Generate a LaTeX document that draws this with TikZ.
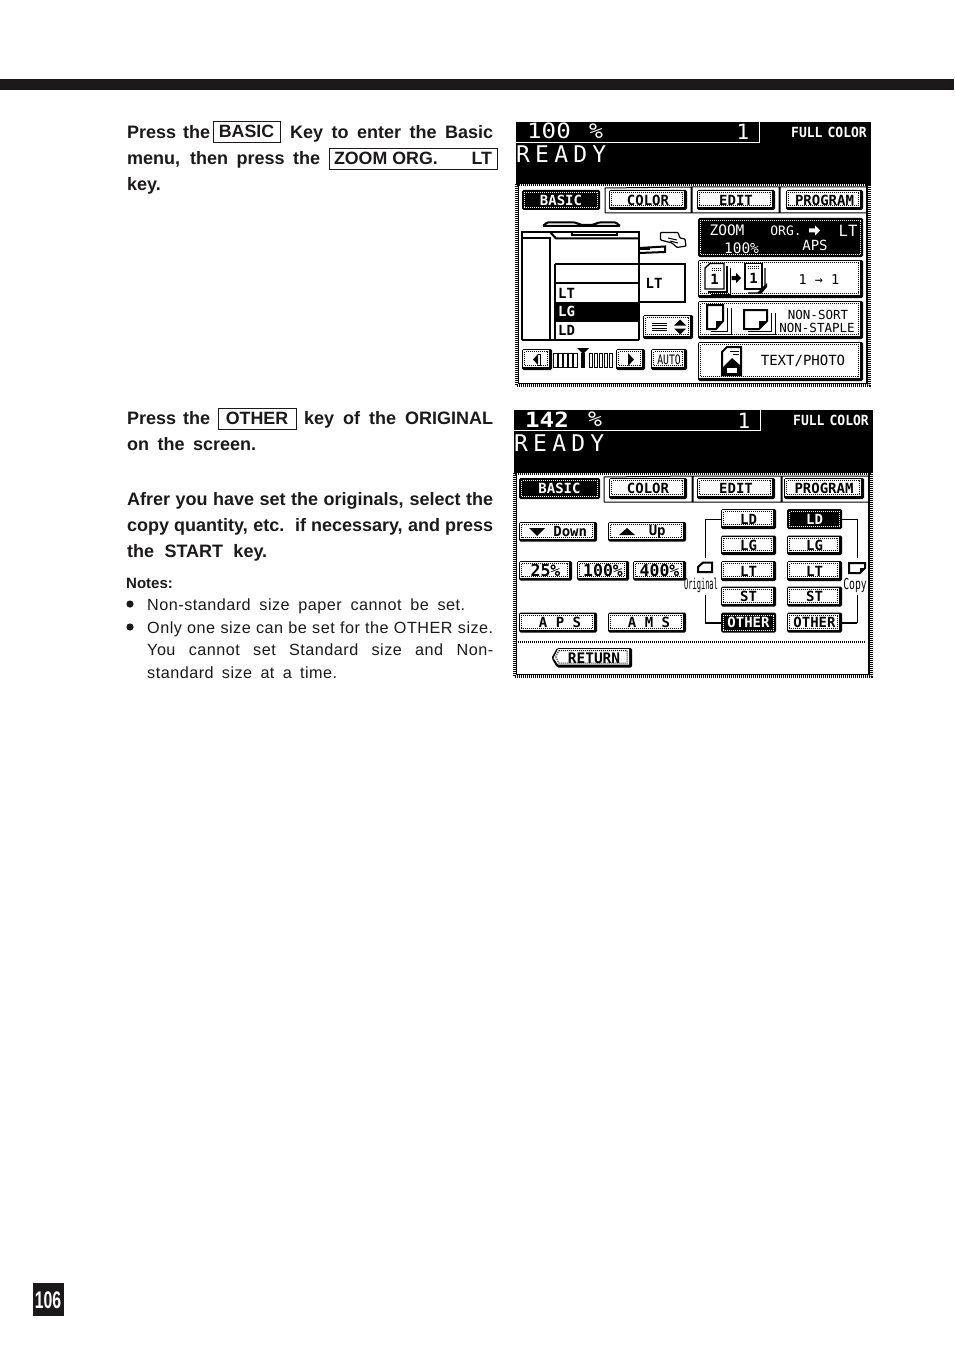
\documentclass[tikz,border=0pt]{standalone}
\usepackage{fontspec}
\setmainfont{Liberation Sans}
\newfontfamily\lcd{DejaVu Sans Mono}
\newfontfamily\notefont[LetterSpace=3]{Liberation Sans}
\usetikzlibrary{calc}
\definecolor{ink}{HTML}{1C191A}
\tikzset{
  dith/.style={line width=1pt,dash pattern=on 1pt off 1pt},
  band/.style={line width=3.2pt,dash pattern=on 1pt off 1pt},
  lab/.style={inner sep=0pt,font=\lcd\bfseries\fontsize{14}{14}\selectfont},
  thin lab/.style={inner sep=0pt,font=\lcd\fontsize{13}{13}\selectfont},
  hline/.style={inner sep=0pt,anchor=base west,text=ink,font=\bfseries\fontsize{18}{18}\selectfont},
  nline/.style={inner sep=0pt,anchor=base west,text=ink,font=\notefont\fontsize{16.2}{16}\selectfont},
  keybox/.style={draw=ink,line width=.9pt,inner sep=0pt,text=ink,font=\bfseries\fontsize{17.8}{18}\selectfont},
  blk/.style={line width=1pt,draw=black},
  thk/.style={line width=2pt,draw=black}
}
% justified line: style, name, x1, x2, baseline y, text
\newcommand{\jl}[6]{\node[#1] (#2) at (#3,#5) {\hbox to \dimexpr#4pt-#3pt\relax{\spaceskip=.16em plus 1fil minus .05em #6}};}
\newcommand{\btn}[7][]{%
  \pgfmathsetmacro\xa{#3}\pgfmathsetmacro\ya{#4}\pgfmathsetmacro\xb{#5}\pgfmathsetmacro\yb{#6}%
  \fill[black,rounded corners=1.5pt] (\xa,\ya) rectangle (\xb,\yb);
  \fill[white] (\xa+1,\ya+1) rectangle (\xb-3,\yb-3);
  \draw[dith] (\xa+2.5,\ya+2.5) rectangle (\xb-4.5,\yb-4.5);
  \draw[dith] (\xb-2.5,\ya+1) -- (\xb-2.5,\yb-1);
  \node[lab,minimum width=\xb pt-\xa pt,minimum height=\yb pt-\ya pt,#1] (#2) at ({(\xa+\xb)/2},{(\ya+\yb)/2}) {#7};}
\newcommand{\bbtn}[7][]{%
  \pgfmathsetmacro\xa{#3}\pgfmathsetmacro\ya{#4}\pgfmathsetmacro\xb{#5}\pgfmathsetmacro\yb{#6}%
  \fill[black,rounded corners=1.5pt] (\xa,\ya) rectangle (\xb,\yb);
  \draw[dith,white] (\xa+2.5,\ya+2.5) rectangle (\xb-2.5,\yb-2.5);
  \node[lab,text=white,minimum width=\xb pt-\xa pt,minimum height=\yb pt-\ya pt,#1] (#2) at ({(\xa+\xb)/2},{(\ya+\yb)/2}) {#7};}
\begin{document}
\begin{tikzpicture}[x=1pt,y=-1pt]
\useasboundingbox (0,0) rectangle (954,1348);
\fill[white] (0,0) rectangle (954,1348);
\fill[ink] (0,79) rectangle (954,90);
% ---------- left text
\jl{hline}{t1a}{127}{210}{138.6}{Press the}
\node[keybox,minimum width=67pt,minimum height=21pt] (kBasic) at (246.5,131.5) {BASIC};
\jl{hline}{t1b}{290}{493}{138.6}{Key to enter the Basic}
\jl{hline}{t2a}{127}{320}{164.6}{menu, then press the}
\node[keybox,minimum width=168pt,minimum height=21pt] (kZoom) at (413,158.5) {\hbox to 158pt{ZOOM ORG.\hfil\hfil\hfil LT}};
\jl{hline}{t3}{127}{162}{190.6}{key.}
\jl{hline}{t4a}{127}{210}{424.6}{Press the}
\node[keybox,minimum width=78pt,minimum height=21pt] (kOther) at (257,418.5) {OTHER};
\jl{hline}{t4b}{304}{493}{424.6}{key of the ORIGINAL}
\jl{hline}{t5}{127}{256}{450.6}{on the screen.}
\jl{hline}{t6}{127}{493}{505.6}{Afrer you have set the originals, select the}
\jl{hline}{t7}{127}{493}{531.6}{copy quantity, etc. if necessary, and press}
\jl{hline}{t8}{127}{267}{557.6}{the START key.}
\node[inner sep=0,anchor=base west,text=ink,font=\bfseries\fontsize{15}{15}\selectfont] (tn) at (126,588) {Notes:};
\fill[ink] (130,604) circle (3.6);
\fill[ink] (130,627) circle (3.6);
\jl{nline}{n1}{147}{465}{610}{Non-standard size paper cannot be set.}
\jl{nline}{n2}{147}{493}{633}{Only one size can be set for the OTHER size.}
\jl{nline}{n3}{147}{493}{655}{You cannot set Standard size and Non-}
\jl{nline}{n4}{147}{337}{678}{standard size at a time.}
% ---------- page number
\fill[ink] (33,1283) rectangle (64,1316);
\node[inner sep=0,text=white,xscale=.66,transform shape,font=\bfseries\fontsize{24}{24}\selectfont] (pg) at (48,1300) {106};
% ================= SCREEN 1
\fill[black] (516,122) rectangle (871,184);
\draw[white,line width=.9pt] (516,142.5) -- (759.5,142.5) -- (759.5,122);
\node[inner sep=0,text=white,xscale=1.15,transform shape,font=\lcd\fontsize{21}{21}\selectfont] (s1z) at (549,131) {100};
\node[inner sep=0,text=white,xscale=1.1,transform shape,font=\lcd\fontsize{21}{21}\selectfont] (s1p) at (596,131) {\%};
\node[inner sep=0,text=white,font=\lcd\fontsize{21}{21}\selectfont] (s1c) at (743,132) {1};
\node[inner sep=0,text=white,xscale=.93,transform shape,font=\lcd\bfseries\fontsize{14}{14}\selectfont] (s1f) at (829,132) {FULL\hspace{-3pt} COLOR};
\node[inner sep=0,anchor=base west,text=white,font=\lcd\fontsize{23}{23}\selectfont] (s1r) at (516,163) {\hbox to 90pt{R\hfil E\hfil A\hfil D\hfil Y}};
\draw[band] (516.6,184) -- (516.6,385.6) -- (869.5,385.6) -- (869.5,184) -- cycle;
\draw[blk,line width=1.4pt] (518.5,184) -- (518.5,383.5) -- (867,383.5) -- (867,184);
\draw[blk] (605,213) -- (605,188) -- (691,187) (691,187)--(691,213) (692,213)--(692,187)--(779,187)--(779,213) (780,213)--(780,187)--(867,187) (605,213) -- (867,213);
\bbtn{s1basic}{522}{190}{600}{210}{BASIC}
\btn{s1color}{609}{190}{687}{210}{COLOR}
\btn{s1edit}{697}{190}{775}{210}{EDIT}
\btn{s1prog}{786}{190}{863}{210}{PROGRAM}
% copier
\draw[thk,rounded corners=1pt] (543,226) -- (547,222.5) -- (575,222.5) -- (582,225) -- (592,225) -- (599,222.5) -- (616,222.5) -- (620,226) -- cycle;
\draw[thk] (522,340) -- (522,232) -- (639,232) -- (639,264);
\draw[thk] (522,238.5) -- (550,238.5) -- (550,340);
\draw[thk] (550,232) -- (556,238.5) -- (639,238.5);
\draw[thk] (572,232) rectangle (617,235);
\draw[thk] (522,340) -- (639,340);
\draw[thk] (639,248) -- (665,246.5) -- (665,252) -- (639,253);
\fill[black] (639,247.5) rectangle (650,250);
\draw[thk] (554.5,264) -- (685,264) -- (685,301.5) -- (639,301.5);
\draw[thk] (554.5,264) -- (554.5,340) (639,264) -- (639,340);
\draw[thk] (555,283) -- (639,283);
\fill[black] (554,301.5) rectangle (640,321.5);
\node[lab,anchor=west] (s1lt) at (558,293) {LT};
\node[lab,anchor=west,text=white] (s1lg) at (558,311.5) {LG};
\node[lab,anchor=west] (s1ld) at (558,330.5) {LD};
\node[lab] (s1lt2) at (654,283) {LT};
% hand
\draw[blk,line width=1.2pt,rounded corners=.8pt] (660.5,232.5) -- (678,232.5) -- (680,238) -- (685,239) -- (686,246) -- (677,247.5) -- (672,243) -- (660.5,240) -- cycle;
\draw[blk] (668,238) -- (677,240) (670,241) -- (678,243);
% small button
\btn{s1pg}{643}{315}{693}{339}{}
\foreach \yy in {323,325.5,328,330.5} \draw[blk] (652,\yy) -- (667,\yy);
\fill (680,319.5) -- (686,325.5) -- (674,325.5) -- cycle;
\fill (680,334.5) -- (686,328.5) -- (674,328.5) -- cycle;
% exposure
\btn{s1left}{522}{349}{552}{370}{}
\fill (533,359.5) -- (538,354) -- (538,365) -- cycle;
\draw[blk] (538,354) -- (540,354) -- (540,365) -- (538,365);
\btn{s1right}{616}{349}{645}{370}{}
\fill (634,359.5) -- (628,353) -- (628,366) -- cycle;
\btn[font=\lcd\fontsize{13}{13}\selectfont,xscale=.75,transform shape]{s1auto}{651}{349}{687}{370}{AUTO}
\foreach \xx in {553.5,558.5,563.5,568.5,573.5,589,594,599,604,609} \draw[blk] (\xx,353) rectangle (\xx+3.5,367.5);
\fill (581,353) rectangle (585,368);
\fill (577,348) -- (589,348) -- (583,354) -- cycle;
% right keys
\bbtn{s1zoom}{698}{218}{863}{257}{}
\node[thin lab,text=white,font=\lcd\fontsize{14.5}{14.5}\selectfont] (s1zt) at (727,230) {ZOOM};
\node[thin lab,text=white] (s1org) at (786,230.5) {ORG.};
\fill[white] (809,228.5) rectangle (815,232.5) (815,225.5) -- (820,230.5) -- (815,235.5) -- cycle;
\node[thin lab,text=white,font=\lcd\fontsize{15.5}{15.5}\selectfont] (s1tolt) at (848,230.5) {LT};
\node[thin lab,text=white,font=\lcd\fontsize{14.5}{14.5}\selectfont] (s1pc) at (741.5,248) {100\%};
\node[thin lab,text=white,font=\lcd\fontsize{14}{14}\selectfont] (s1aps) at (815,245) {APS};
\btn{s1copy}{698}{260}{863}{298}{}
\draw[blk,line width=1.4pt,fill=white] (705,268) -- (710,263.5) -- (724,263.5) -- (724,289) -- (705,289) -- cycle;
\draw[blk,line width=1.4pt] (727,266) -- (727,292) -- (708,292);
\draw[blk] (730,268) -- (730,294.5) -- (711,294.5);
\draw[dith] (712,268) -- (722,268) (712,270) -- (722,270);
\node[lab] (s1o1) at (714.5,279) {1};
\fill (731.5,276) rectangle (736,280) (736,273) -- (741,278) -- (736,283) -- cycle;
\draw[blk,line width=1.4pt,fill=white] (745,263.5) rectangle (762,289);
\draw[blk,line width=1.4pt] (765,268) -- (765,286) -- (759,293) -- (748,293);
\fill (757,293) -- (767,283) -- (767,287) -- (761,294) -- cycle;
\draw[dith] (748,266) -- (759,266) (748,268) -- (759,268);
\node[lab] (s1o2) at (753.5,278) {1};
\node[thin lab,font=\lcd\fontsize{13.5}{13.5}\selectfont] (s1oo) at (819,280) {1 → 1};
\btn{s1sort}{698}{301}{863}{339}{}
\draw[thk,fill=white] (707,305) -- (723,305) -- (723,321) -- (716,329) -- (707,329) -- cycle;
\fill (716,329) -- (723,321) -- (716,321) -- cycle;
\draw[blk] (727,308) -- (727,331) -- (711,331) (731,308) -- (731,334) -- (711,334);
\draw[thk,fill=white] (744,310) -- (767,310) -- (767,321) -- (759,329) -- (744,329) -- cycle;
\fill (759,329) -- (767,321) -- (759,321) -- cycle;
\draw[blk] (771,313) -- (771,331) -- (748,331) (775,313) -- (775,334) -- (748,334);
\node[thin lab,font=\lcd\fontsize{12.5}{12.5}\selectfont] (s1ns) at (818,314.5) {NON-SORT};
\node[thin lab,font=\lcd\fontsize{12.5}{12.5}\selectfont] (s1nst) at (817,327.5) {NON-STAPLE};
\btn{s1text}{698}{342}{863}{381}{}
\draw[thk,fill=white] (722,352) -- (727,347) -- (741,347) -- (741,375) -- (722,375) -- cycle;
\fill (722,368) -- (732,358) -- (741,366) -- (741,375) -- (722,375) -- cycle;
\fill[white] (727,368) rectangle (737,373);
\draw[blk] (730,351) -- (739,351) (733,354) -- (739,354);
\node[thin lab,font=\lcd\fontsize{14}{14}\selectfont] (s1tp) at (803,361) {TEXT/PHOTO};
% ================= SCREEN 2
\fill[black] (514,410) rectangle (873,473);
\draw[white,line width=.9pt] (514,430.5) -- (760.5,430.5) -- (760.5,410);
\node[inner sep=0,text=white,xscale=1.15,transform shape,font=\lcd\bfseries\fontsize{21}{21}\selectfont] (s2z) at (547,419.5) {142};
\node[inner sep=0,text=white,xscale=1.1,transform shape,font=\lcd\fontsize{21}{21}\selectfont] (s2p) at (595,419.5) {\%};
\node[inner sep=0,text=white,font=\lcd\fontsize{21}{21}\selectfont] (s2c) at (744,420.5) {1};
\node[inner sep=0,text=white,xscale=.93,transform shape,font=\lcd\bfseries\fontsize{14}{14}\selectfont] (s2f) at (831,420) {FULL\hspace{-3pt} COLOR};
\node[inner sep=0,anchor=base west,text=white,font=\lcd\fontsize{23}{23}\selectfont] (s2r) at (514,451) {\hbox to 90pt{R\hfil E\hfil A\hfil D\hfil Y}};
\draw[band] (514.6,473) -- (514.6,676.5) -- (871.5,676.5) -- (871.5,473) -- cycle;
\draw[blk,line width=1.4pt] (516.5,473) -- (516.5,674.5) -- (869,674.5) -- (869,473);
\draw[blk] (604,502) -- (604,477) -- (692,476) (692,476)--(692,502) (693,502)--(693,476)--(781,476)--(781,502) (782,502)--(782,476)--(869,476) (604,502) -- (869,502);
\bbtn{s2basic}{519}{478}{600}{499}{BASIC}
\btn{s2color}{609}{478}{687}{499}{COLOR}
\btn{s2edit}{697}{478}{775}{499}{EDIT}
\btn{s2prog}{784}{478}{864}{499}{PROGRAM}
\btn{s2down}{519}{522}{597}{541.5}{\hspace*{16pt} Down}
\fill (529,528) -- (545,528) -- (537,536) -- cycle;
\btn{s2up}{608}{522}{686}{541.5}{\hspace*{12pt} Up}
\fill (619,535) -- (635,535) -- (627,528) -- cycle;
\btn[font=\lcd\bfseries\fontsize{16.5}{16.5}\selectfont]{s2a}{519}{561}{572}{580.5}{25\%}
\btn[font=\lcd\bfseries\fontsize{16.5}{16.5}\selectfont]{s2b}{577}{561}{629}{580.5}{100\%}
\btn[font=\lcd\bfseries\fontsize{16.5}{16.5}\selectfont]{s2c4}{633}{561}{686}{580.5}{400\%}
\btn{s2aps}{519}{612.5}{597}{632.5}{\hspace*{4pt}A P S}
\btn{s2ams}{608}{612.5}{686}{632.5}{\hspace*{4pt}A M S}
\btn{oLD}{721}{509}{776}{529}{LD}
\btn{oLG}{721}{535.5}{776}{555}{LG}
\btn{oLT}{721}{561}{776}{581}{LT}
\btn{oST}{721}{586.5}{776}{606.5}{ST}
\bbtn{oOT}{721}{612.5}{776}{632.5}{OTHER}
\bbtn{cLD}{787}{509}{842}{529}{LD}
\btn{cLG}{787}{535.5}{842}{555}{LG}
\btn{cLT}{787}{561}{842}{581}{LT}
\btn{cST}{787}{586.5}{842}{606.5}{ST}
\btn{cOT}{787}{612.5}{842}{632.5}{OTHER}
\coordinate (bo1) at (705,558);
\coordinate (bo2) at (705,595);
\coordinate (bc1) at (857,558);
\coordinate (bc2) at (857,595);
\draw[blk] (oLD.west) -| (bo1);
\draw[blk] (oOT.west) -| (bo2);
\draw[blk] (cLD.east) -| (bc1);
\draw[blk] (cOT.east) -| (bc2);
\draw[thk] (705,622.5) -- (721,622.5) (842,622.5) -- (857,622.5);
\draw[thk] (698,572) -- (698,567) -- (703,562.5) -- (712,562.5) -- (712,572) -- cycle;
\draw[thk] (849,563) -- (865,563) -- (865,568) -- (860,573) -- (849,573) -- cycle;
\fill (860,573) -- (865,568) -- (860,568) -- cycle;
\node[inner sep=0,xscale=.47,transform shape,font=\lcd\fontsize{15}{15}\selectfont] (s2or) at (701,585) {Original};
\node[inner sep=0,xscale=.65,transform shape,font=\lcd\fontsize{15}{15}\selectfont] (s2co) at (855,585) {Copy};
\draw[dith,line width=1.2pt] (518,642) -- (866,642);
% return key
\fill[black,rounded corners=1.5pt] (557,648) -- (632,648) -- (632,667.5) -- (557,667.5) -- (551.5,658) -- cycle;
\fill[white] (558,649) -- (629,649) -- (629,664.5) -- (558,664.5) -- (553.5,658) -- cycle;
\draw[dith] (559,650.5) -- (627,650.5) -- (627,663) -- (559,663) -- (555.5,657) -- cycle;
\node[lab,font=\lcd\bfseries\fontsize{14.5}{14.5}\selectfont] (s2ret) at (594,658) {RETURN};
\end{tikzpicture}
\end{document}
